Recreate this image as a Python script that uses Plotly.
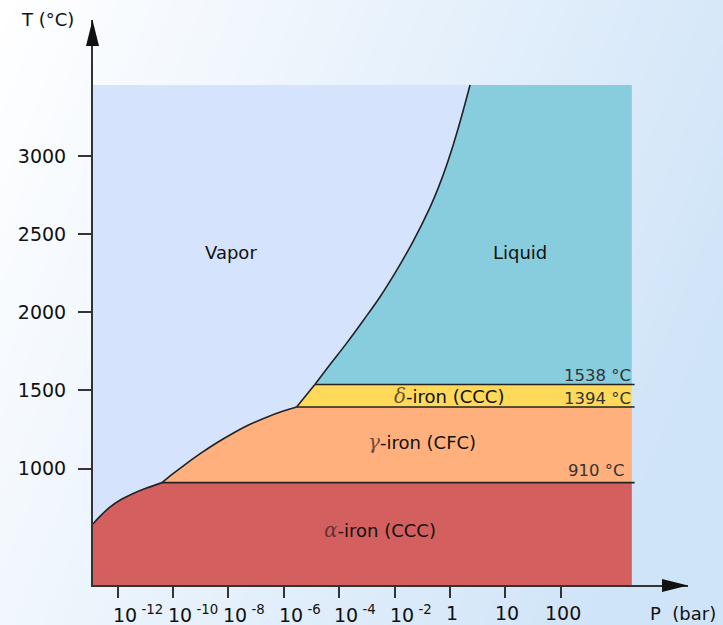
import base64
import struct
import zlib

import plotly.graph_objects as go

# ---------------------------------------------------------------- data ----
# Pressure axis is schematic: one step per labelled tick.
P_TICK_POS = [0, 1, 2, 3, 4, 5, 6, 7, 8]
P_TICK_TEXT = ["10<sup> -12</sup>", "10<sup> -10</sup>", "10<sup> -8</sup>",
               "10<sup> -6</sup>", "10<sup> -4</sup>", "10<sup> -2</sup>",
               "1", "10", "100"]
T_TICKS = [1000, 1500, 2000, 2500, 3000]

# Transition temperatures (°C)
T_ALPHA_GAMMA = 910
T_GAMMA_DELTA = 1394
T_MELT = 1538

# Vapour-pressure boundaries (P in tick steps, T in °C)
ALPHA_VAP_P = [-0.445, -0.32, -0.14, 0.04, 0.28, 0.52, 0.80]
ALPHA_VAP_T = [646, 694, 753, 797, 840, 875, 910]
GAMMA_VAP_P = [0.80, 1.00, 1.18, 1.49, 1.79, 2.09, 2.39, 2.69, 2.99, 3.23]
GAMMA_VAP_T = [910, 967, 1016, 1095, 1165, 1228, 1283, 1329, 1368, 1394]
DELTA_VAP_P = [3.23, 3.56]
DELTA_VAP_T = [1394, 1538]
LIQ_VAP_P = [3.56, 3.83, 4.13, 4.43, 4.74, 5.04, 5.34, 5.64, 5.79, 5.94,
             6.06, 6.18, 6.27, 6.36]
LIQ_VAP_T = [1538, 1664, 1801, 1946, 2101, 2271, 2459, 2673, 2799, 2944,
             3075, 3219, 3334, 3454]

# Extent of the shaded diagram
P_MIN, P_EDGE, P_LINE_END = -0.445, 9.28, 9.33
T_MIN, T_TOP = 200, 3454

# Phase labels: (P, T, text)
PHASE_LABELS = [
    (2.04, 2385, "Vapor"),
    (7.27, 2385, "Liquid"),
]
GREEK = ('<span style="font-family:DejaVu Serif;font-style:italic;'
         'font-size:20px;color:rgba(60,40,40,0.75)">{}</span>')
IRON_LABELS = [
    (5.98, 1466, GREEK.format("δ") + "-iron (CCC)"),
    (5.49, 1173, GREEK.format("γ") + "-iron (CFC)"),
    (4.73, 608, GREEK.format("α") + "-iron (CCC)"),
]

COLORS = {
    "vapor": "#d5e3fc",
    "liquid": "#88cddd",
    "delta": "#ffd95a",
    "gamma": "#ffb07c",
    "alpha": "#d45f5f",
}

# --------------------------------------------------------------- layout ---
W, H = 723, 625
ML, MR, MT, MB = 93, 35, 20, 40
PW, PH = W - ML - MR, H - MT - MB
FONT = "DejaVu Sans"


def px_to_paper(px, py):
    return (px - ML) / PW, (H - MB - py) / PH


def gradient_png(w, h):
    """Soft white-to-blue page background as a PNG data URI."""
    end = (208, 228, 248)
    rows = []
    for j in range(h):
        v = j / (h - 1)
        row = bytearray([0])
        for i in range(w):
            u = i / (w - 1)
            f = min(1.0, 0.85 * u + 0.3 * v)
            row += bytes(int(round(255 + (c - 255) * f)) for c in end)
        rows.append(bytes(row))
    raw = b"".join(rows)

    def chunk(tag, data):
        return (struct.pack(">I", len(data)) + tag + data
                + struct.pack(">I", zlib.crc32(tag + data) & 0xFFFFFFFF))

    png = (b"\x89PNG\r\n\x1a\n"
           + chunk(b"IHDR", struct.pack(">IIBBBBB", w, h, 8, 2, 0, 0, 0))
           + chunk(b"IDAT", zlib.compress(raw, 9))
           + chunk(b"IEND", b""))
    return "data:image/png;base64," + base64.b64encode(png).decode()


fig = go.Figure()


def add_region(xs, ys, color):
    fig.add_trace(go.Scatter(x=xs, y=ys, mode="lines", fill="toself",
                             fillcolor=color, line=dict(width=0),
                             hoverinfo="skip", showlegend=False))


# Vapour everywhere, condensed phases on top
add_region([P_MIN, P_EDGE, P_EDGE, P_MIN], [T_MIN, T_MIN, T_TOP, T_TOP],
           COLORS["vapor"])
add_region(ALPHA_VAP_P + [P_EDGE, P_EDGE, P_MIN],
           ALPHA_VAP_T + [T_ALPHA_GAMMA, T_MIN, T_MIN], COLORS["alpha"])
add_region(GAMMA_VAP_P + [P_EDGE, P_EDGE],
           GAMMA_VAP_T + [T_GAMMA_DELTA, T_ALPHA_GAMMA], COLORS["gamma"])
add_region(DELTA_VAP_P + [P_EDGE, P_EDGE],
           DELTA_VAP_T + [T_MELT, T_GAMMA_DELTA], COLORS["delta"])
add_region(LIQ_VAP_P + [P_EDGE, P_EDGE],
           LIQ_VAP_T + [T_TOP, T_MELT], COLORS["liquid"])

# Phase boundaries: each vapour curve drawn smooth, triple points kept sharp
LINE = dict(color="#222222", width=1.6)
for ps, ts, shape in [(ALPHA_VAP_P, ALPHA_VAP_T, "spline"),
                      (GAMMA_VAP_P, GAMMA_VAP_T, "spline"),
                      (DELTA_VAP_P, DELTA_VAP_T, "linear"),
                      (LIQ_VAP_P, LIQ_VAP_T, "spline")]:
    fig.add_trace(go.Scatter(x=ps, y=ts, mode="lines",
                             line=dict(LINE, shape=shape, smoothing=1.0),
                             hoverinfo="skip", showlegend=False))
for p0, t in [(ALPHA_VAP_P[-1], T_ALPHA_GAMMA),
              (GAMMA_VAP_P[-1], T_GAMMA_DELTA),
              (DELTA_VAP_P[-1], T_MELT)]:
    fig.add_trace(go.Scatter(x=[p0, P_LINE_END], y=[t, t], mode="lines",
                             line=LINE, hoverinfo="skip", showlegend=False))

annotations = []
# Pressure tick labels
for pos, txt in zip(P_TICK_POS, P_TICK_TEXT):
    sup = "<sup>" in txt
    annotations.append(dict(
        x=pos, y=0, xref="x", yref="paper", text=txt, showarrow=False,
        xanchor="left" if sup else "center", yanchor="top",
        xshift=-7 if sup else 2, yshift=-15,
        font=dict(family=FONT, size=19, color="#111111")))

# Phase names
for p, t, txt in PHASE_LABELS + IRON_LABELS:
    annotations.append(dict(x=p, y=t, text=txt, showarrow=False,
                            xanchor="center", yanchor="middle",
                            font=dict(family=FONT, size=18, color="#111111")))

# Transition temperature labels
for t, xs, ys in [(T_MELT, 1, 9), (T_GAMMA_DELTA, 1, 8), (T_ALPHA_GAMMA, -5, 12)]:
    annotations.append(dict(x=P_EDGE, y=t, text=f"{t} °C", showarrow=False,
                            xanchor="right", yanchor="middle",
                            xshift=xs, yshift=ys,
                            font=dict(family=FONT, size=16.5, color="#333333")))

# Axis titles
tx, ty = px_to_paper(47, 19)
annotations.append(dict(x=tx, y=ty, xref="paper", yref="paper", text="T (°C)",
                        showarrow=False, xanchor="center", yanchor="middle",
                        font=dict(family=FONT, size=18, color="#111111")))
tx, ty = px_to_paper(683, 613)
annotations.append(dict(x=tx, y=ty, xref="paper", yref="paper", text="P  (bar)",
                        showarrow=False, xanchor="center", yanchor="middle",
                        font=dict(family=FONT, size=18, color="#111111")))


def tri_path(pts):
    coords = [px_to_paper(*p) for p in pts]
    return "M " + " L ".join(f"{x:.5f},{y:.5f}" for x, y in coords) + " Z"


shapes = [
    dict(type="path", xref="paper", yref="paper", line=dict(width=0),
         fillcolor="#111111",
         path=tri_path([(92.5, 20), (86, 46), (99, 46)])),
    dict(type="path", xref="paper", yref="paper", line=dict(width=0),
         fillcolor="#111111",
         path=tri_path([(688, 585.5), (662, 579), (662, 592)])),
]

fig.update_layout(
    width=W, height=H, autosize=False,
    margin=dict(l=ML, r=MR, t=MT, b=MB, pad=0),
    paper_bgcolor="white", plot_bgcolor="rgba(0,0,0,0)",
    showlegend=False,
    annotations=annotations,
    shapes=shapes,
    images=[dict(source=gradient_png(241, 209), xref="paper", yref="paper",
                 x=-ML / PW, y=1 + MT / PH, sizex=W / PW, sizey=H / PH,
                 xanchor="left", yanchor="top", sizing="stretch",
                 layer="below")],
    xaxis=dict(range=[P_MIN, 10.294], showgrid=False, zeroline=False,
               showline=True, linecolor="#333333", linewidth=2,
               tickvals=P_TICK_POS, showticklabels=False,
               ticks="outside", ticklen=11, tickwidth=2, tickcolor="#333333",
               fixedrange=True),
    yaxis=dict(range=[255, 3870], showgrid=False, zeroline=False,
               showline=True, linecolor="#333333", linewidth=2,
               tickvals=T_TICKS, ticks="outside", ticklen=13, tickwidth=2,
               tickcolor="#333333", ticklabelstandoff=8,
               tickfont=dict(family=FONT, size=19, color="#111111"),
               fixedrange=True),
)

fig.write_html("out.html")
